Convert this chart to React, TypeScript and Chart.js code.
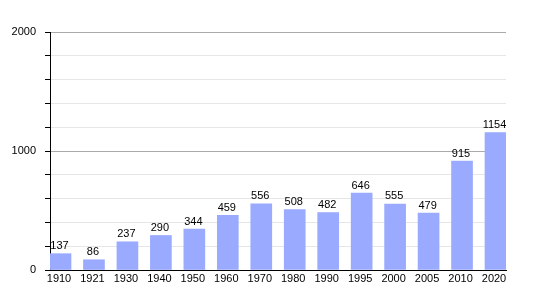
import React, { useEffect, useRef } from "react";
import { Chart, registerables } from "chart.js";

Chart.register(...registerables);

const years = ["1910", "1921", "1930", "1940", "1950", "1960", "1970", "1980", "1990", "1995", "2000", "2005", "2010", "2020"];
const population = [137, 86, 237, 290, 344, 459, 556, 508, 482, 646, 555, 479, 915, 1154];
const yLabels = [0, 1000, 2000];

const FONT = "'Liberation Sans', Arial, sans-serif";
const BAR_W = 21;
const HALF = 0.314;

const valueLabels = {
  id: "valueLabels",
  afterDatasetsDraw(chart: any) {
    const ctx = chart.ctx;
    const meta = chart.getDatasetMeta(0);
    ctx.save();
    ctx.font = `11px ${FONT}`;
    ctx.fillStyle = "#000";
    ctx.textAlign = "center";
    ctx.textBaseline = "bottom";
    meta.data.forEach((bar: any, i: number) => {
      ctx.fillText(String(population[i]), bar.x - 1, bar.y - 2);
    });
    ctx.restore();
  },
};

export default function App() {
  const ref = useRef<HTMLCanvasElement>(null);
  useEffect(() => {
    const chart = new Chart(ref.current!, {
      type: "bar",
      data: {
        datasets: [
          {
            data: population.map((y, i) => ({ x: i, y })),
            backgroundColor: "#99aaff",
            barThickness: BAR_W,
          },
        ],
      },
      options: {
        animation: false,
        responsive: false,
        devicePixelRatio: 1,
        layout: { padding: { top: 32, right: 29, left: 0, bottom: 0 } },
        plugins: { legend: { display: false }, tooltip: { enabled: false } },
        scales: {
          x: {
            type: "linear",
            offset: false,
            min: -HALF,
            max: years.length - 1 + HALF,
            grid: { display: false, drawTicks: false, tickLength: 0, offset: false },
            border: { color: "#000", width: 1 },
            afterBuildTicks: (s: any) => {
              s.ticks = years.map((_, i) => ({ value: i }));
            },
            ticks: {
              color: "#000",
              font: { family: FONT, size: 11 },
              padding: 2,
              labelOffset: -1.5,
              maxRotation: 0,
              autoSkip: false,
              callback: (v: any) => years[Number(v)] ?? "",
            },
            afterFit: (s: any) => { s.height = 30; },
          },
          y: {
            min: 0,
            max: 2000,
            border: { color: "#000", width: 1 },
            grid: {
              color: (c: any) => (c.tick && c.tick.value % 1000 === 0 ? "#aaaaaa" : "#e6e6e6"),
              tickColor: "#000",
              tickLength: 5,
            },
            ticks: {
              stepSize: 200,
              color: "#000",
              padding: 9,
              font: { family: FONT, size: 11 },
              callback: (v: any) => (yLabels.includes(Number(v)) ? String(v) : ""),
            },
            afterFit: (s: any) => { s.width = 50; },
          },
        },
      },
      plugins: [valueLabels],
    });
    return () => chart.destroy();
  }, []);
  return (
    <div style={{ position: "absolute", left: 0, top: 0, width: 535, height: 300, background: "#fff" }}>
      <canvas ref={ref} width={535} height={300} />
    </div>
  );
}
